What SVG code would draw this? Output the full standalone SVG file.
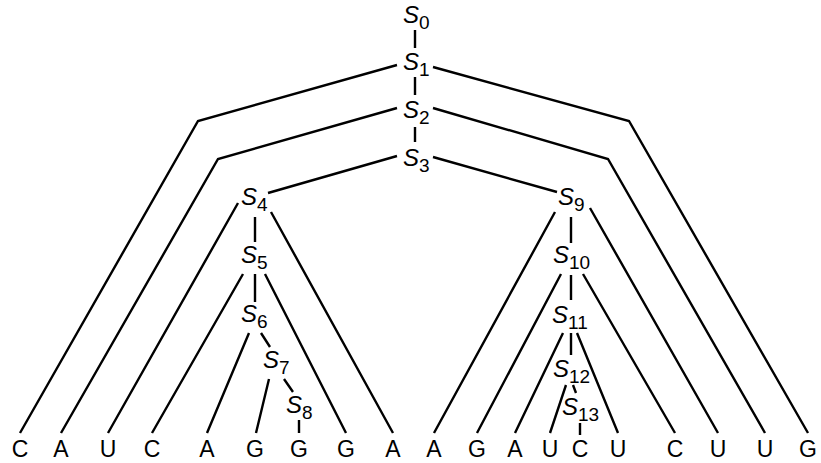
<svg xmlns="http://www.w3.org/2000/svg" width="821" height="463" viewBox="0 0 821 463">
<style>
.e{fill:none;stroke:#000;stroke-width:2.4;stroke-linecap:butt;stroke-linejoin:miter}
.n{font-family:"Liberation Sans",Arial,sans-serif;font-size:24px;font-style:italic;fill:#000}
.n tspan{font-style:normal;font-size:19px}
.b{font-family:"Liberation Sans",Arial,sans-serif;font-size:23px;fill:#000;text-anchor:middle}
</style>
<rect width="821" height="463" fill="#fff"/>
<g id="connectors">
<path class="e" d="M415,30V48M415,77V95M415,127V142"/>
<polyline class="e" points="397,65 198,121 20,433"/>
<polyline class="e" points="433,67 629,121 808,433"/>
<polyline class="e" points="397,108 218,159 61,433"/>
<polyline class="e" points="433,108 608,159 765,433"/>
<path class="e" d="M397,156L268,193M433,157L557,192"/>
<path class="e" d="M238,203L108,433M255,217V242M271,212L393,433"/>
<path class="e" d="M243,274L152,433M255,274V302M265,274L346,433"/>
<path class="e" d="M249,333L207,433M261,333L270,347"/>
<path class="e" d="M269,379L256,433M284,379L293,392"/>
<path class="e" d="M299,420V433"/>
<path class="e" d="M555,212L434,433M571,217V243M590,208L718,433"/>
<path class="e" d="M561,274L477,433M571,275V300M583,274L675,433"/>
<path class="e" d="M563,333L515,433M571,333V355M577,333L618,433"/>
<path class="e" d="M566,385L550,433M573,385L576,393"/>
<path class="e" d="M580,423V435"/>
</g>
<g id="S0"><text class="n" x="403" y="23">S<tspan dy="6">0</tspan></text></g>
<g id="S1"><text class="n" x="403" y="70">S<tspan dy="6">1</tspan></text></g>
<g id="S2"><text class="n" x="403" y="118">S<tspan dy="6">2</tspan></text></g>
<g id="S3"><text class="n" x="403" y="166">S<tspan dy="6">3</tspan></text></g>
<g id="S4"><text class="n" x="241" y="205">S<tspan dy="6">4</tspan></text></g>
<g id="S5"><text class="n" x="241" y="263">S<tspan dy="6">5</tspan></text></g>
<g id="S6"><text class="n" x="241" y="322">S<tspan dy="6">6</tspan></text></g>
<g id="S7"><text class="n" x="263" y="368">S<tspan dy="6">7</tspan></text></g>
<g id="S8"><text class="n" x="286" y="413">S<tspan dy="6">8</tspan></text></g>
<g id="S9"><text class="n" x="558" y="205">S<tspan dy="6">9</tspan></text></g>
<g id="S10"><text class="n" x="553" y="263">S<tspan dy="6">10</tspan></text></g>
<g id="S11"><text class="n" x="552" y="323">S<tspan dy="6">11</tspan></text></g>
<g id="S12"><text class="n" x="553" y="377">S<tspan dy="6">12</tspan></text></g>
<g id="S13"><text class="n" x="562" y="415">S<tspan dy="6">13</tspan></text></g>
<g id="leaves">
<text class="b" x="20" y="457">C</text>
<text class="b" x="61" y="457">A</text>
<text class="b" x="108" y="457">U</text>
<text class="b" x="152" y="457">C</text>
<text class="b" x="207" y="457">A</text>
<text class="b" x="255" y="457">G</text>
<text class="b" x="299" y="457">G</text>
<text class="b" x="346" y="457">G</text>
<text class="b" x="393" y="457">A</text>
<text class="b" x="434" y="457">A</text>
<text class="b" x="477" y="457">G</text>
<text class="b" x="515" y="457">A</text>
<text class="b" x="550" y="457">U</text>
<text class="b" x="580" y="457">C</text>
<text class="b" x="618" y="457">U</text>
<text class="b" x="675" y="457">C</text>
<text class="b" x="718" y="457">U</text>
<text class="b" x="765" y="457">U</text>
<text class="b" x="808" y="457">G</text>
</g>
</svg>
